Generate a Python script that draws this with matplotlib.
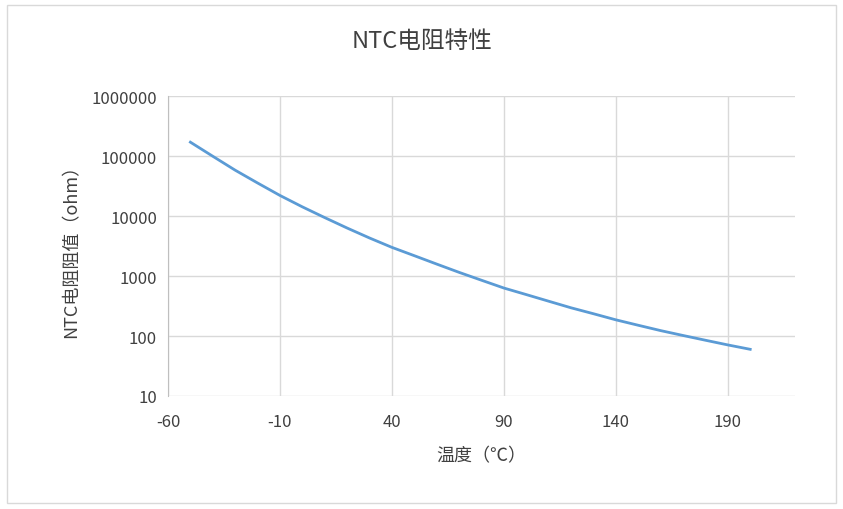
import matplotlib
matplotlib.use("Agg")
import matplotlib.pyplot as plt
from matplotlib.ticker import FixedLocator, FixedFormatter, NullLocator

plt.rcParams['font.family'] = ['Noto Sans CJK SC', 'DejaVu Sans']
plt.rcParams['axes.unicode_minus'] = False

temps = [-50,-40,-30,-20,-10,0,10,20,30,40,50,60,70,80,90,100,110,120,130,140,150,160,170,180,190,200]
res = [170000,99000,58000,35500,22000,14200,9400,6300,4300,3000,2180,1580,1150,850,630,490,380,295,235,186,151,123,102,85,71,60]
xticks = [-60,-10,40,90,140,190]
yticks = [10,100,1000,10000,100000,1000000]

fig = plt.figure(figsize=(8.43,5.10), dpi=100)
fig.patches.append(plt.Rectangle((0.008,0.012),0.984,0.976, transform=fig.transFigure,
                                 fill=False, edgecolor='#d9d9d9', lw=1))
ax = fig.add_axes([168/843, 1-397/510, (795-168)/843, 300/510])
ax.plot(temps, res, color='#5b9bd5', lw=2)
ax.set_yscale('log')
ax.set_xlim(-60,220); ax.set_ylim(10,1e6)
ax.xaxis.set_major_locator(FixedLocator(xticks))
ax.yaxis.set_major_locator(FixedLocator(yticks))
ax.yaxis.set_major_formatter(FixedFormatter([str(v) for v in yticks]))
ax.yaxis.set_minor_locator(NullLocator())
ax.grid(True, color='#d9d9d9', lw=1)
ax.set_axisbelow(True)
for s in ['top','right','bottom']:
    ax.spines[s].set_visible(False)
ax.spines['left'].set_color('#bfbfbf')
ax.tick_params(axis='both', length=0, labelsize=12, colors='#404040', pad=8)
ax.tick_params(axis='x', pad=12)
ax.set_xlabel('温度（℃）', fontsize=13, color='#404040', labelpad=12)
ax.set_ylabel('NTC电阻阻值（ohm）', fontsize=13, color='#404040', labelpad=8)
fig.text(0.5, 0.905, 'NTC电阻特性', ha='center', fontsize=17, color='#404040')
fig.savefig('out.png', dpi=100)
